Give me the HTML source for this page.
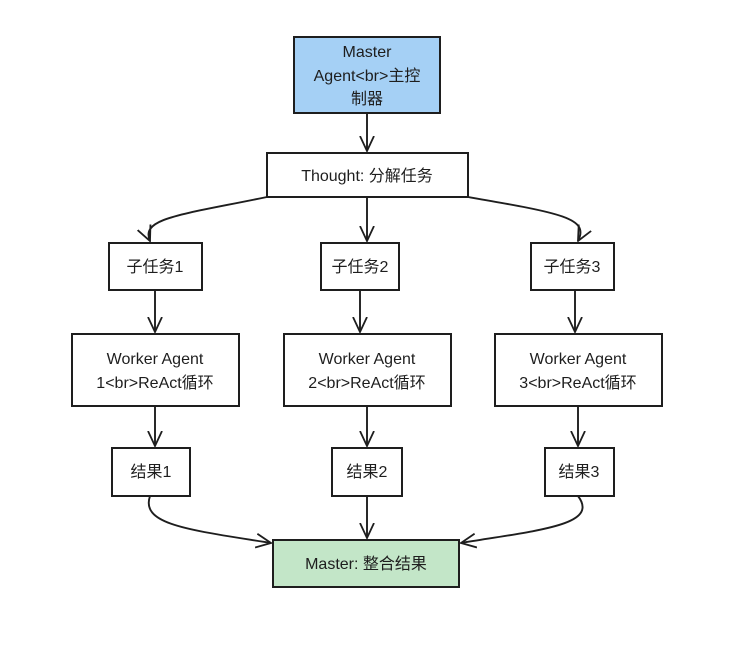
<!DOCTYPE html>
<html><head><meta charset="utf-8"><style>
body{margin:0;background:#fff;}
svg text{font-family:"Liberation Sans","Noto Sans CJK SC",sans-serif;font-size:16px;fill:#1e1e1e;text-anchor:middle;}
</style></head><body>
<svg width="755" height="655" viewBox="0 0 755 655" xmlns="http://www.w3.org/2000/svg">
<defs><marker id="a" viewBox="0 0 16 16" refX="15" refY="8" markerWidth="16" markerHeight="16" markerUnits="userSpaceOnUse" orient="auto"><path d="M0,1 L15,8 L0,15" fill="none" stroke="#1e1e1e" stroke-width="1.8"/></marker></defs>
<g stroke="#1e1e1e" stroke-width="2" fill="none">
<rect x="294" y="37" width="146" height="76" fill="#a5d0f5"/>
<rect x="267" y="153" width="201" height="44" fill="#fff"/>
<rect x="109" y="243" width="93" height="47" fill="#fff"/>
<rect x="321" y="243" width="78" height="47" fill="#fff"/>
<rect x="531" y="243" width="83" height="47" fill="#fff"/>
<rect x="72" y="334" width="167" height="72" fill="#fff"/>
<rect x="284" y="334" width="167" height="72" fill="#fff"/>
<rect x="495" y="334" width="167" height="72" fill="#fff"/>
<rect x="112" y="448" width="78" height="48" fill="#fff"/>
<rect x="332" y="448" width="70" height="48" fill="#fff"/>
<rect x="545" y="448" width="69" height="48" fill="#fff"/>
<rect x="273" y="540" width="186" height="47" fill="#c3e6c8"/>
</g>
<g stroke="#1e1e1e" stroke-width="1.9" fill="none" marker-end="url(#a)">
<path d="M367 113 L367 151"/>
<path d="M267 197 C180 215 140 218 150 241"/>
<path d="M367 197 L367 241"/>
<path d="M468 197 C560 213 590 218 578 241"/>
<path d="M155 290 L155 332"/>
<path d="M360 290 L360 332"/>
<path d="M575 290 L575 332"/>
<path d="M155 406 L155 446"/>
<path d="M367 406 L367 446"/>
<path d="M578 406 L578 446"/>
<path d="M150 496 C140 525 190 530 271 543"/>
<path d="M367 496 L367 538"/>
<path d="M578 496 C600 525 540 530 461 543"/>
</g>
<text x="367" y="57">Master</text>
<text x="367" y="81">Agent&lt;br&gt;主控</text>
<text x="367" y="104">制器</text>
<text x="367" y="181">Thought: 分解任务</text>
<text x="155" y="272">子任务1</text>
<text x="360" y="272">子任务2</text>
<text x="572" y="272">子任务3</text>
<text x="155" y="364">Worker Agent</text>
<text x="155" y="388">1&lt;br&gt;ReAct循环</text>
<text x="367" y="364">Worker Agent</text>
<text x="367" y="388">2&lt;br&gt;ReAct循环</text>
<text x="578" y="364">Worker Agent</text>
<text x="578" y="388">3&lt;br&gt;ReAct循环</text>
<text x="151" y="477">结果1</text>
<text x="367" y="477">结果2</text>
<text x="579" y="477">结果3</text>
<text x="366" y="569">Master: 整合结果</text>
</svg>
</body></html>
